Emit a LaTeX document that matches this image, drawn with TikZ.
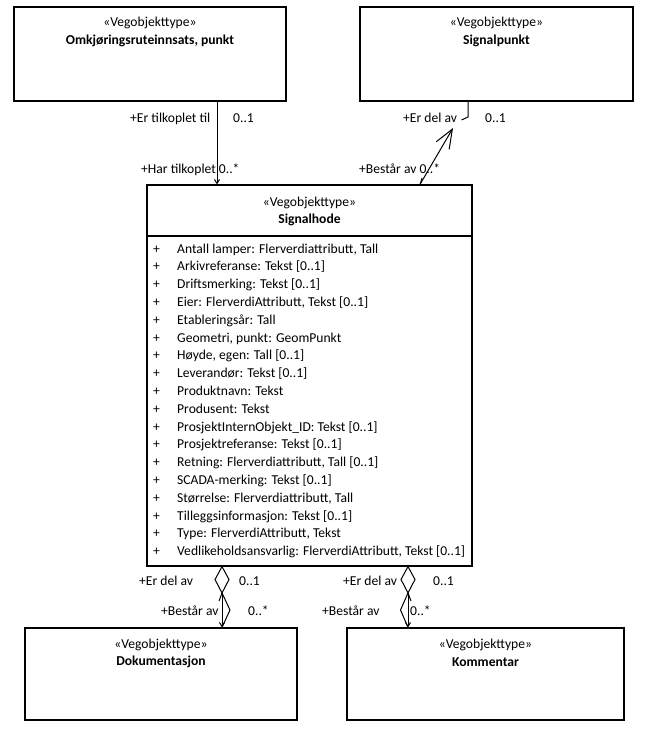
\documentclass[tikz,border=0pt]{standalone}
\usepackage{fontspec}
\setmainfont{Carlito}
\usetikzlibrary{arrows.meta}
\begin{document}
\begin{tikzpicture}[x=1pt,y=-1pt,
  cls/.style={draw=black,line width=1.2pt,fill=white,inner sep=0pt},
  txt/.style={inner sep=0pt,font=\fontsize{13.6}{16}\selectfont},
  stereo/.style={txt},
  cname/.style={txt,font=\fontsize{13.6}{16}\selectfont\bfseries},
  attr/.style={txt,anchor=base west},
  lbl/.style={txt,anchor=base west},
  conn/.style={line width=1pt},
  tipsmall/.style={-{Straight Barb[length=4pt,width=5pt]}},
]
\useasboundingbox (0,0) rectangle (648,740);

% classes
\node[cls,minimum width=272pt,minimum height=94pt] (omk) at (150,54) {};
\node[cls,minimum width=273pt,minimum height=94pt] (sp) at (496.5,54) {};
\node[cls,minimum width=325pt,minimum height=381pt] (sh) at (309.5,375.5) {};
\node[cls,minimum width=272pt,minimum height=92pt] (dok) at (161,674) {};
\node[cls,minimum width=277pt,minimum height=92pt] (kom) at (485.5,674) {};
\draw[line width=1.2pt] (147,236) coordinate (shsepL) -- (472,236) coordinate (shsepR);

% class headings
\node[stereo] (omks) at (150,23) {«Vegobjekttype»};
\node[cname]  (omkn) at (150,41) {Omkjøringsruteinnsats, punkt};
\node[stereo] (sps) at (496.5,23) {«Vegobjekttype»};
\node[cname]  (spn) at (496.5,41) {Signalpunkt};
\node[stereo] (shs) at (309.5,203) {«Vegobjekttype»};
\node[cname]  (shn) at (309.5,220) {Signalhode};
\node[stereo] (doks) at (161,645) {«Vegobjekttype»};
\node[cname]  (dokn) at (161,662) {Dokumentasjon};
\node[stereo] (koms) at (485.5,645) {«Vegobjekttype»};
\node[cname]  (komn) at (485.5,662) {Kommentar};

% attributes of Signalhode
\foreach \t [count=\i] in {
  {Antall lamper: Flerverdiattributt, Tall},
  {Arkivreferanse: Tekst [0..1]},
  {Driftsmerking: Tekst [0..1]},
  {Eier: FlerverdiAttributt, Tekst [0..1]},
  {Etableringsår: Tall},
  {Geometri, punkt: GeomPunkt},
  {Høyde, egen: Tall [0..1]},
  {Leverandør: Tekst [0..1]},
  {Produktnavn: Tekst},
  {Produsent: Tekst},
  {ProsjektInternObjekt\_ID: Tekst [0..1]},
  {Prosjektreferanse: Tekst [0..1]},
  {Retning: Flerverdiattributt, Tall [0..1]},
  {SCADA-merking: Tekst [0..1]},
  {Størrelse: Flerverdiattributt, Tall},
  {Tilleggsinformasjon: Tekst [0..1]},
  {Type: FlerverdiAttributt, Tekst},
  {Vedlikeholdsansvarlig: FlerverdiAttributt, Tekst [0..1]}} {
  \node[attr] (p\i) at (153,{253+(\i-1)*17.8}) {+};
  \node[attr] (a\i) at (177,{253+(\i-1)*17.8}) {\t};
}

% Omkjøringsruteinnsats -> Signalhode
\draw[conn,tipsmall] (omk.south -| 217,0) -- (sh.north -| 217,0);
\node[lbl] (l1) at (130,122) {+Er tilkoplet til};
\node[lbl] (l2) at (233,122) {0..1};
\node[lbl] (l3) at (141,173) {+Har tilkoplet 0..*};

% Signalpunkt <-> Signalhode
\coordinate (spend) at (453,128);
\draw[conn,-{Straight Barb[length=19pt,width=15pt]}] (sh.north -| 420,0) -- (spend);
\draw[conn] (420,185) -- (422,178);
\draw[conn] (sp.south -| 468,0) -- (468,117) -- (461.5,120) coordinate (hook);
\node[lbl] (l4) at (403,122) {+Er del av};
\node[lbl] (l5) at (485,122) {0..1};
\node[lbl] (l6) at (359,173) {+Består av 0..*};

% Signalhode <>- Dokumentasjon
\draw[conn,fill=white] (sh.south -| 222,0) coordinate (d1t) -- (229,579.5) -- (222,593) coordinate (d1b) -- (215,579.5) -- cycle;
\draw[conn,tipsmall] (d1b) -- (dok.north -| 222,0);
\draw[conn] (d1b) -- (230,610) -- (dok.north -| 222,0);
\draw[conn] (219,601) -- (222,593);
\node[lbl] (l7) at (139,585) {+Er del av};
\node[lbl] (l8) at (239,585) {0..1};
\node[lbl] (l9) at (161,615) {+Består av};
\node[lbl] (l10) at (248,615) {0..*};

% Signalhode <>- Kommentar
\draw[conn,fill=white] (sh.south -| 408,0) coordinate (d2t) -- (415,579.5) -- (408,593) coordinate (d2b) -- (401,579.5) -- cycle;
\draw[conn,tipsmall] (d2b) -- (kom.north -| 408,0);
\draw[conn] (d2b) -- (400.5,610) -- (kom.north -| 408,0);
\draw[conn] (411,601) -- (408,593);
\node[lbl] (l11) at (343,585) {+Er del av};
\node[lbl] (l12) at (433,585) {0..1};
\node[lbl] (l13) at (322,615) {+Består av};
\node[lbl] (l14) at (410,615) {0..*};
\end{tikzpicture}
\end{document}
